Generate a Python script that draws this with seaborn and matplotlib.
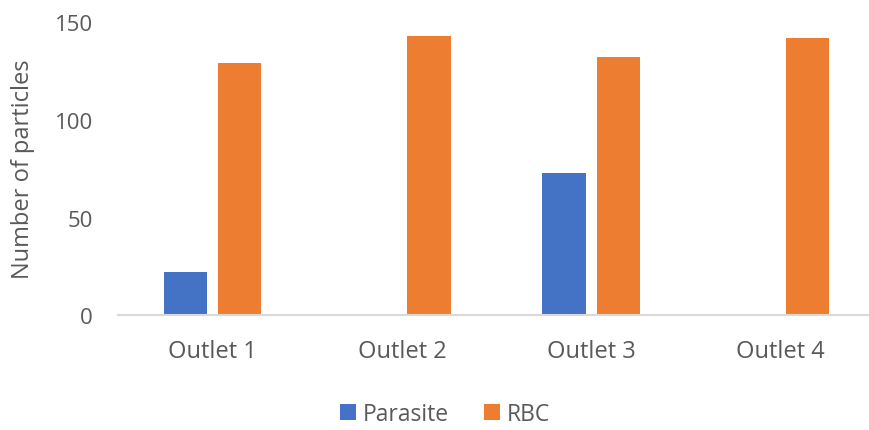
import matplotlib
matplotlib.use("Agg")
import matplotlib.pyplot as plt
import seaborn as sns
import pandas as pd
from matplotlib.patches import Patch

outlets = ["Outlet 1", "Outlet 2", "Outlet 3", "Outlet 4"]
parasite = [22, 0, 73, 0]
rbc = [129, 143, 132, 142]
series_names = ["Parasite", "RBC"]
colors = ["#4472C4", "#ED7D31"]
yticks = [0, 50, 100, 150]

df = pd.DataFrame({
    "Outlet": outlets * 2,
    "Series": [series_names[0]] * 4 + [series_names[1]] * 4,
    "Count": parasite + rbc,
})

sns.set_theme(style="white")
plt.rcParams["font.family"] = ["Open Sans", "DejaVu Sans"]

fig = plt.figure(figsize=(8.69, 4.31), dpi=100)
ax = fig.add_axes([0.1358, 0.2657, 0.8711, 0.6813])

sns.barplot(data=df, x="Outlet", y="Count", hue="Series",
            palette=colors, width=0.573, gap=0.2, ax=ax,
            saturation=1, legend=False, linewidth=0)

ax.set_ylim(0, 150)
ax.set_yticks(yticks)
ax.set_xlim(-0.5, 3.5)
for s in ["top", "right", "left"]:
    ax.spines[s].set_visible(False)
ax.spines["bottom"].set_color("#D9D9D9")
ax.spines["bottom"].set_linewidth(1.5)
ax.tick_params(axis="y", length=0, labelsize=16, colors="#595959", pad=18)
ax.tick_params(axis="x", length=0, labelsize=17, colors="#595959", pad=17)
ax.set_xlabel("")
ax.set_ylabel("Number of particles", fontsize=17, color="#595959", labelpad=14)

handles = [Patch(facecolor=c, edgecolor="none") for c in colors]
fig.legend(handles, series_names, loc="center", bbox_to_anchor=(0.512, 0.038),
           ncol=2, frameon=False, fontsize=16.5, labelcolor="#595959",
           handlelength=0.7, handleheight=0.7, handletextpad=0.3, columnspacing=1.5)

fig.savefig("out.png", dpi=100)
